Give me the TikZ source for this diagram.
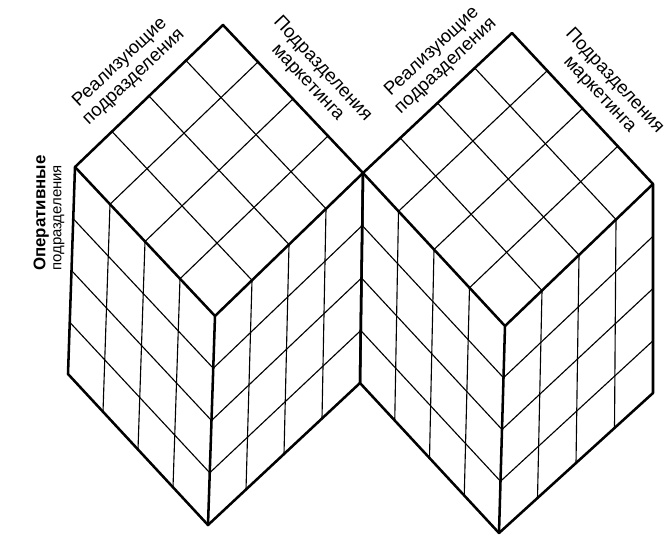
\documentclass[tikz,border=0pt]{standalone}
\usepackage{fontspec}
\setmainfont{Liberation Sans}
\usetikzlibrary{calc}

\begin{document}
\begin{tikzpicture}[x=0.025cm,y=-0.025cm,line join=round,line cap=round,
  edge/.style={line width=1.8pt},
  cell/.style={line width=0.8pt},
  axis/.style={font=\fontsize{13.2}{14.4}\selectfont,align=center,inner sep=0pt}]
  \useasboundingbox (0,0) rectangle (668,534);

  % left cube
  \coordinate (a-L)  at (75,167);
  \coordinate (a-T)  at (223,25);
  \coordinate (a-R)  at (363,173);
  \coordinate (a-F)  at (215,316);
  \coordinate (a-BL) at (68,374);
  \coordinate (a-BF) at (208,525);
  \coordinate (a-BR) at (360,383);
  % right cube
  \coordinate (b-L)  at (a-R);
  \coordinate (b-T)  at (512,33);
  \coordinate (b-R)  at (653,184);
  \coordinate (b-F)  at (505,326);
  \coordinate (b-BL) at (a-BR);
  \coordinate (b-BF) at (499,533);
  \coordinate (b-BR) at (653,393);

  \foreach \c in {a,b} {
    \foreach \k in {1,2,3} {
      \draw[cell] ($(\c-L)!\k/4!(\c-F)$) -- ($(\c-T)!\k/4!(\c-R)$);
      \draw[cell] ($(\c-L)!\k/4!(\c-T)$) -- ($(\c-F)!\k/4!(\c-R)$);
      \draw[cell] ($(\c-L)!\k/4!(\c-F)$) -- ($(\c-BL)!\k/4!(\c-BF)$);
      \draw[cell] ($(\c-L)!\k/4!(\c-BL)$) -- ($(\c-F)!\k/4!(\c-BF)$);
      \draw[cell] ($(\c-F)!\k/4!(\c-R)$) -- ($(\c-BF)!\k/4!(\c-BR)$);
      \draw[cell] ($(\c-F)!\k/4!(\c-BF)$) -- ($(\c-R)!\k/4!(\c-BR)$);
    }
    \draw[edge] (\c-BL) -- (\c-L) -- (\c-T) -- (\c-R) -- (\c-BR) -- (\c-BF) -- cycle;
    \draw[edge] (\c-L) -- (\c-F) -- (\c-R) (\c-F) -- (\c-BF);
  }

  \node[axis,rotate=43] (a-impl) at (127,70) {Реализующие\\подразделения};
  \node[axis,rotate=-47] (a-mkt) at (315,76) {Подразделения\\маркетинга};
  \node[axis,rotate=43] (b-impl) at (439,59) {Реализующие\\подразделения};
  \node[axis,rotate=-47] (b-mkt) at (607,88) {Подразделения\\маркетинга};
  \node[axis,rotate=90,align=left,font=\fontsize{10.6}{11.5}\selectfont] (ops) at (49,213)
    {{\fontsize{12}{11.5}\selectfont\bfseries Оперативные}\\подразделения};
\end{tikzpicture}
\end{document}
